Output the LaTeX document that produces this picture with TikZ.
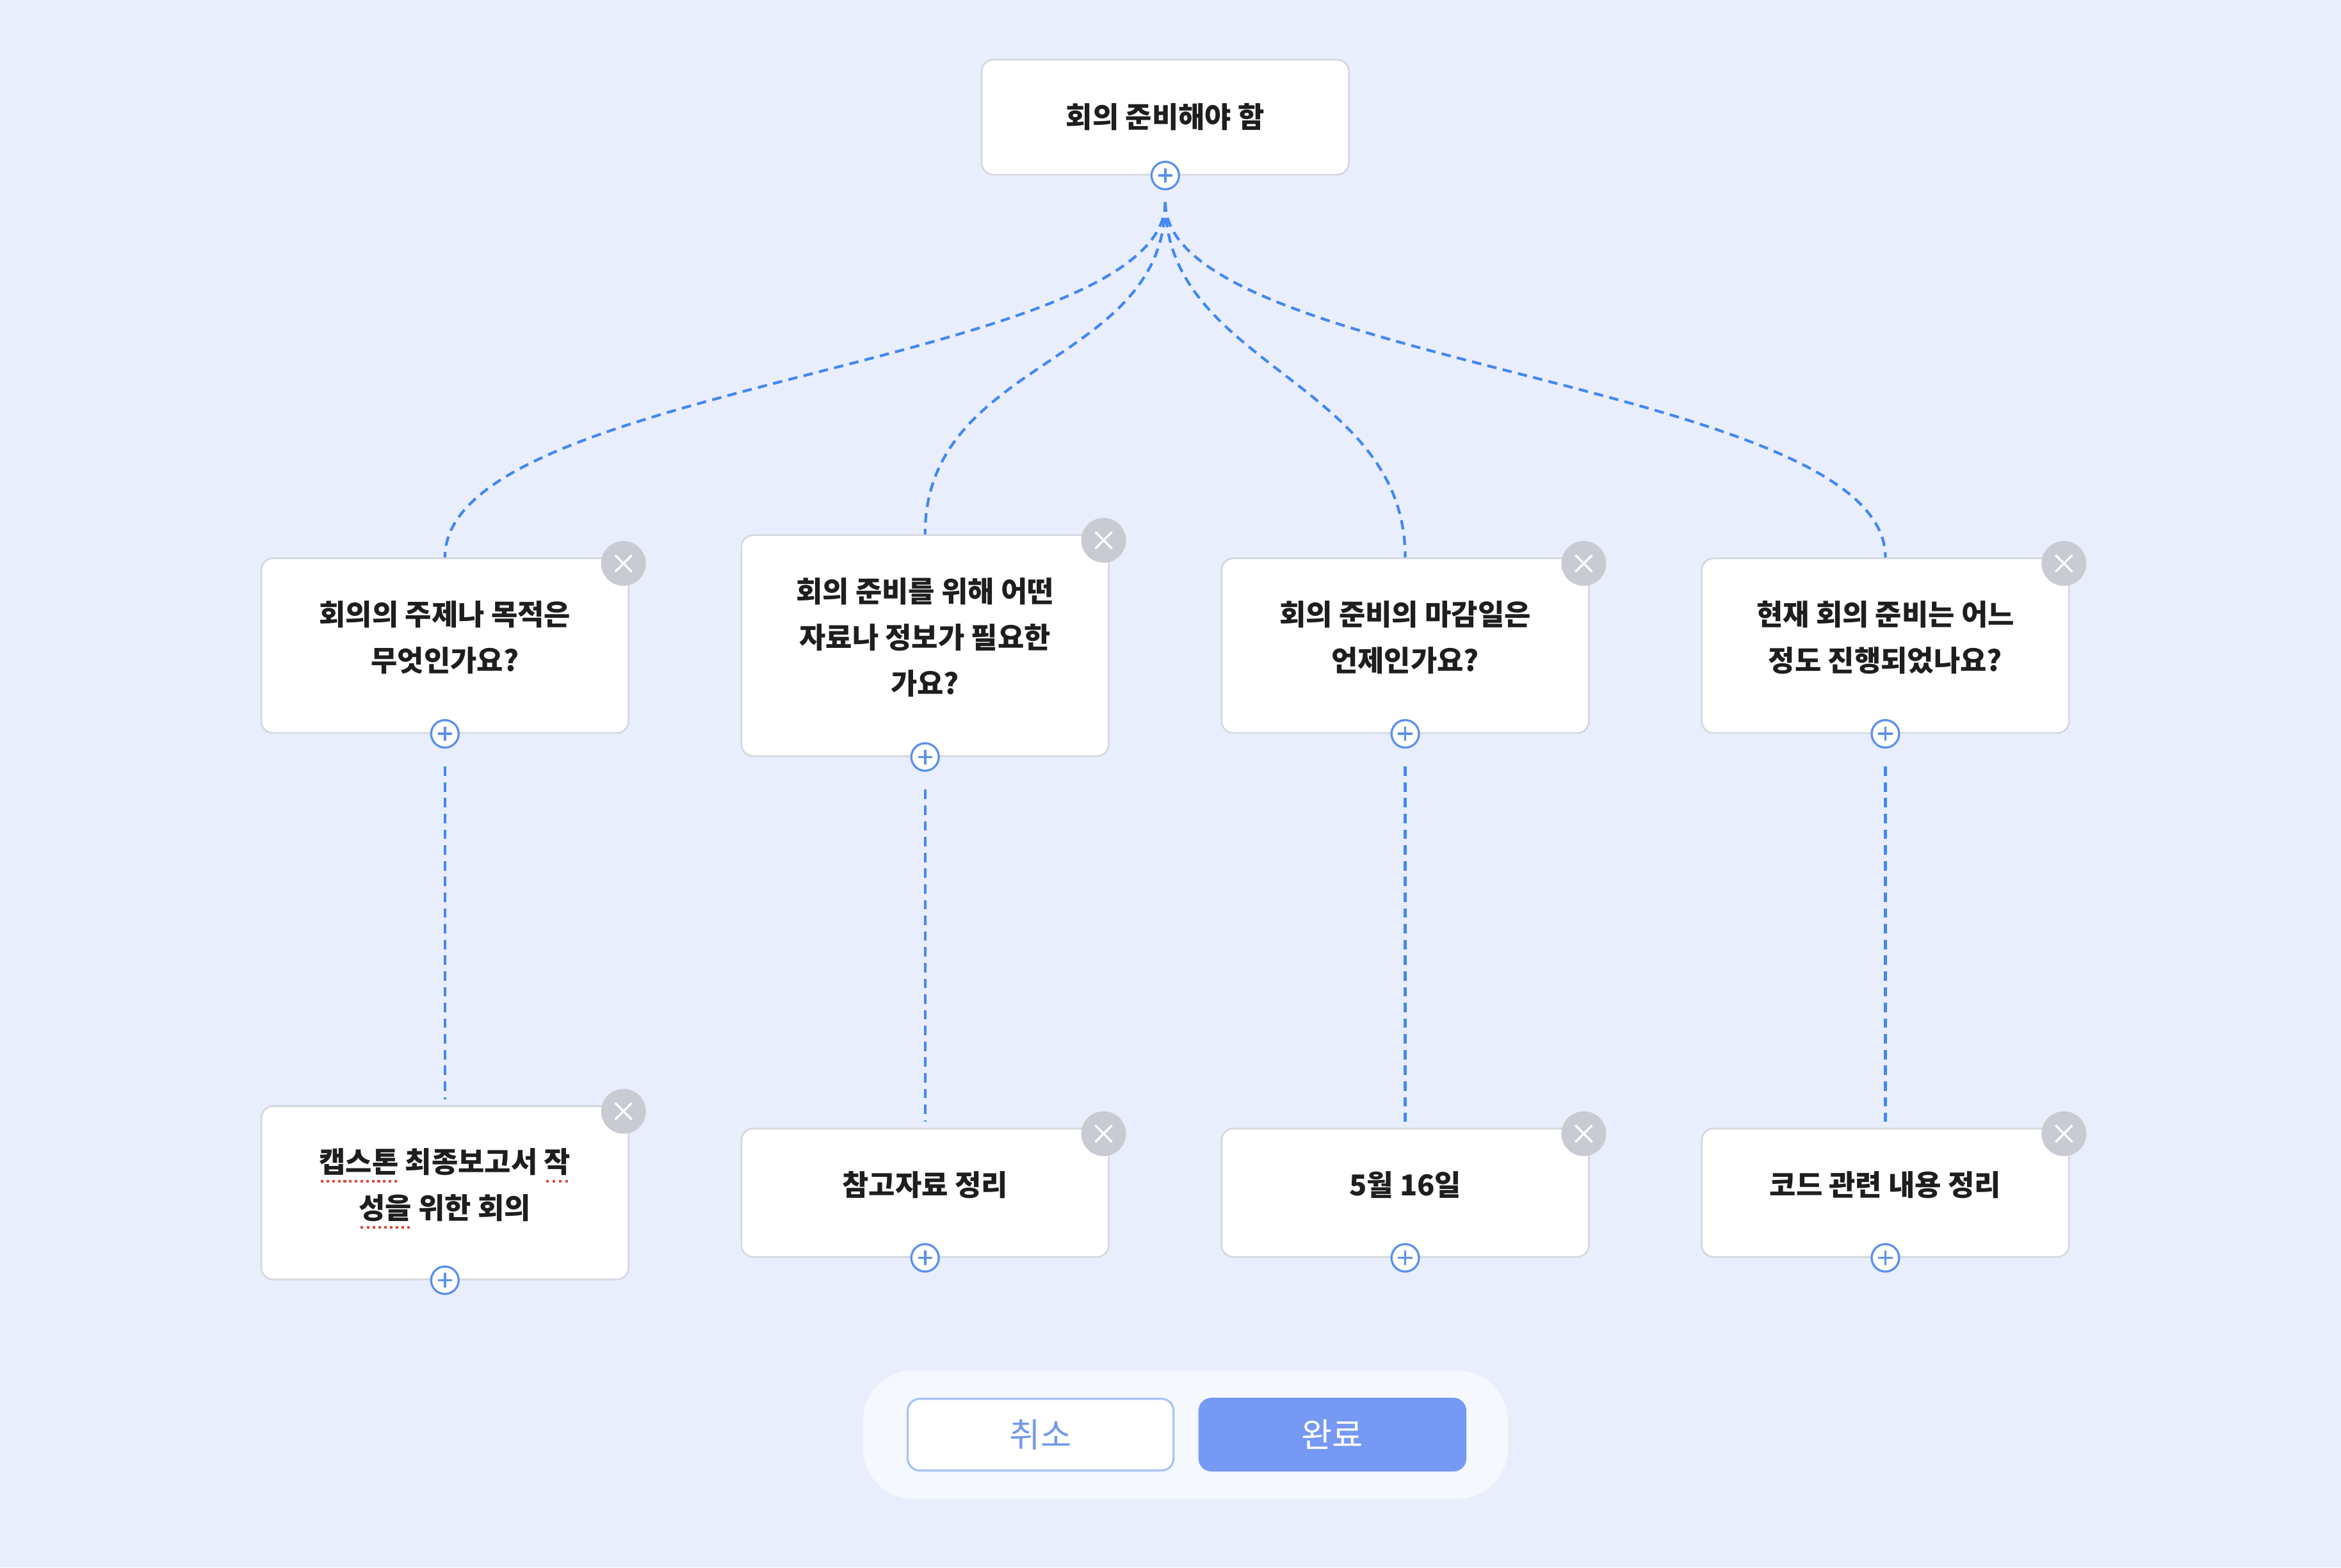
\documentclass[tikz,border=0pt]{standalone}
\usepackage{fontspec}
\usepackage{xcolor}
\usetikzlibrary{positioning}
\setmainfont{Noto Sans CJK KR}

\definecolor{canvas}{HTML}{E9EEFC}
\definecolor{panelbg}{HTML}{F5F8FE}
\definecolor{edge}{HTML}{D4D7DE}
\definecolor{linkblue}{HTML}{4287F5}
\definecolor{plusblue}{HTML}{5B8FF0}
\definecolor{closegray}{HTML}{C9CBD2}
\definecolor{okblue}{HTML}{7699F4}
\definecolor{cancelline}{HTML}{A9C3F8}
\definecolor{canceltext}{HTML}{7197EF}
\definecolor{typored}{HTML}{E0443C}
\definecolor{ink}{HTML}{1E1E1E}

\newcommand\typo[1]{\leavevmode\setbox0\hbox{#1}\rlap{\raisebox{-0.35em}{\textcolor{typored}{\hbox to \wd0{\xleaders\hbox to 0.19em{\hss\rule{0.09em}{0.09em}\hss}\hfill}}}}\box0\relax}

\begin{document}
\begin{tikzpicture}[
        x=0.025cm, y=-0.025cm,
        node distance=1.86cm,
        root/.style={rectangle, draw=edge, line width=0.8pt, fill=white,
            rounded corners=0.2cm, minimum width=6.15cm, minimum height=1.925cm,
            align=center, text=ink, font=\bfseries\fontsize{13.7}{22}\selectfont},
        qbox/.style={root, execute at end node={\rule[-9pt]{0pt}{9pt}}},
        addbtn/.style={circle, draw=plusblue, line width=1pt, fill=white,
            minimum size=0.46cm, inner sep=0pt,
            path picture={\draw[plusblue, line width=1.1pt] (path picture bounding box.center)
                +(-0.12cm,0) -- +(0.12cm,0) +(0,-0.12cm) -- +(0,0.12cm);}},
        delbtn/.style={circle, fill=closegray, minimum size=0.75cm, inner sep=0pt,
            path picture={\draw[white, line width=1pt] (path picture bounding box.center)
                +(-0.14cm,-0.14cm) -- +(0.14cm,0.14cm) +(-0.14cm,0.14cm) -- +(0.14cm,-0.14cm);}},
        link/.style={draw=linkblue, line width=1.3pt, dash pattern=on 4.5pt off 3pt},
        panel/.style={rectangle, fill=panelbg, rounded corners=0.85cm,
            minimum width=10.8cm, minimum height=2.15cm},
        cancelbtn/.style={rectangle, draw=cancelline, line width=1pt, fill=white,
            rounded corners=0.2cm, minimum width=4.45cm, minimum height=1.2cm,
            text=canceltext, font=\fontsize{16}{18}\selectfont},
        okbtn/.style={cancelbtn, draw=okblue, fill=okblue, text=white}
    ]
    \fill [canvas] (0,0) rectangle (1568,1050);

    \node [root] (goal) at (780.5,78.5) {회의 준비해야 함};
    \node [qbox, minimum height=2.925cm] (topic) at (298,432.5) {회의의 주제나 목적은\\무엇인가요?};
    \node [qbox, minimum height=3.7cm, right=of topic] (material) {회의 준비를 위해 어떤\\자료나 정보가 필요한\\가요?};
    \node [qbox, minimum height=2.925cm, right=of material] (deadline) {회의 준비의 마감일은\\언제인가요?};
    \node [qbox, minimum height=2.925cm, right=of deadline] (progress) {현재 회의 준비는 어느\\정도 진행되었나요?};

    \node [qbox, minimum height=2.9cm] (topicans) at (298,799) {\typo{캡스톤} 최종보고서 \typo{작}\\\typo{성을} 위한 회의};
    \node [qbox, minimum height=2.15cm, right=of topicans] (materialans) {참고자료 정리};
    \node [qbox, minimum height=2.15cm, right=of materialans] (deadlineans) {5월 16일};
    \node [qbox, minimum height=2.15cm, right=of deadlineans] (progressans) {코드 관련 내용 정리};

    \foreach \n in {goal, topic, material, deadline, progress, topicans, materialans, deadlineans, progressans}
        \node [addbtn] (\n-add) at (\n.south) {};
    \foreach \n in {topic, material, deadline, progress, topicans, materialans, deadlineans, progressans}
        \node [delbtn] (\n-del) at ([shift={(-4,4)}]\n.north east) {};

    \foreach \n in {topic, material, deadline, progress}
        \draw [link, shorten <=0.2cm] (goal-add.south) .. controls +(0,118) and +(0,-118) .. (\n.north);
    \draw [link, shorten <=0.3cm, shorten >=0.1cm] (topic-add) -- (topicans);
    \draw [link, shorten <=0.3cm, shorten >=0.1cm] (material-add) -- (materialans);
    \draw [link, shorten <=0.3cm, shorten >=0.1cm] (deadline-add) -- (deadlineans);
    \draw [link, shorten <=0.3cm, shorten >=0.1cm] (progress-add) -- (progressans);

    \node [panel] (bar) at (794,961) {};
    \node [cancelbtn] (cancel) at (697,961) {취소};
    \node [okbtn, right=0.4cm of cancel] (done) {완료};
\end{tikzpicture}
\end{document}
